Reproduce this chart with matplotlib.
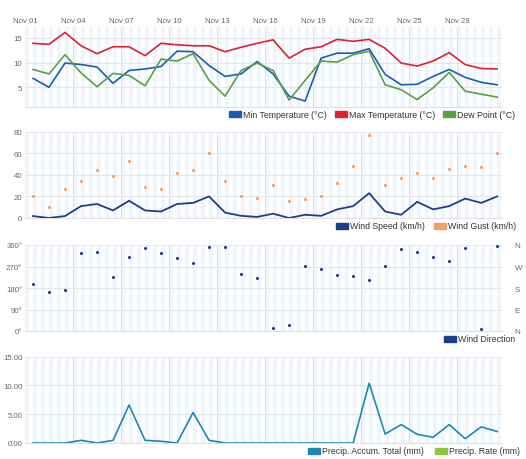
import numpy as np
import matplotlib
matplotlib.use("Agg")
import matplotlib.pyplot as plt
from matplotlib.patches import Rectangle

plt.rcParams['font.family'] = ['Liberation Sans', 'DejaVu Sans']

days = [f"Nov {d:02d}" for d in range(1, 31)]
min_temp = [6.8, 5.0, 9.9, 9.6, 9.1, 5.8, 8.4, 8.7, 9.2, 12.3, 12.2, 9.4, 7.2, 7.7, 10.2,
            7.7, 3.2, 2.2, 10.9, 11.9, 11.9, 12.8, 7.6, 5.5, 5.6, 7.2, 8.6, 7.0, 6.0, 5.5]
max_temp = [13.9, 13.7, 16.1, 13.4, 11.8, 13.2, 13.2, 11.4, 13.9, 13.6, 13.4, 13.4, 12.2, 13.1, 13.9,
            14.6, 10.9, 12.7, 13.2, 14.7, 14.3, 14.7, 12.9, 9.9, 9.3, 10.3, 12.0, 9.6, 8.8, 8.7]
dew_point = [8.6, 7.7, 11.6, 7.9, 5.1, 7.8, 7.4, 5.3, 10.7, 10.3, 11.8, 6.4, 3.2, 8.4, 9.9,
             8.4, 2.4, 6.4, 10.3, 10.1, 11.6, 12.3, 5.5, 4.5, 2.5, 4.9, 8.0, 4.2, 3.6, 3.0]
wind_speed = [1.8, 0, 1.8, 11, 13, 7, 16, 7, 6, 13, 14, 20, 5, 2, 1,
              4, 0, 3, 2, 8, 11, 23, 6, 3, 15, 8, 11, 18, 14, 20]
wind_gust = [20.6, 9.8, 26.8, 34.2, 44.9, 39, 52.9, 28.9, 27, 41.8, 44.9, 60, 34.2, 20.6, 18.8,
             31, 16, 17.8, 20.6, 32, 48, 77.2, 31, 37, 41.8, 37, 45, 48, 47, 60]
wind_dir = [197, 162, 172, 325, 332, 224, 308, 349, 325, 307, 286, 350, 353, 238, 221,
            13, 27, 273, 260, 235, 230, 214, 272, 345, 332, 308, 291, 347, 7, 357]
precip_total = [0, 0, 0, 0.46, 0, 0.46, 6.6, 0.46, 0.3, 0, 5.3, 0.46, 0, 0, 0,
                0, 0, 0, 0, 0, 0, 10.4, 1.56, 3.2, 1.5, 1.0, 3.2, 0.75, 2.8, 2.0]

C_MIN = '#1a5cb8'
C_MAX = '#dd2130'
C_DEW = '#5a9e45'
C_WS = '#1b3f8b'
C_WG = '#f2a060'
C_DIR = '#1b3f8b'
C_PT = '#1f87b5'
C_PR = '#8cc63f'
GRID = '#e6e6e6'
TXT = '#666666'

W, H = 526, 460
fig = plt.figure(figsize=(W / 100, H / 100), dpi=100)

x = np.arange(len(days)) + 0.5
XMAX = 29.8
L, R = 25, 502


def make_ax(top_px, bot_px):
    ax = fig.add_axes([L / W, 1 - bot_px / H, (R - L) / W, (bot_px - top_px) / H])
    ax.set_xlim(0, XMAX)
    for k in range(int(XMAX * 2) + 1):
        ax.axvspan(k * 0.5, k * 0.5 + 0.25, color='#eef5fc', lw=0, zorder=0)
    for d in range(3, 30, 3):
        ax.axvline(d, color='#e2e2e2', lw=0.8, zorder=0.5)
    for s in ax.spines.values():
        s.set_visible(False)
    ax.spines['bottom'].set_visible(True)
    ax.spines['bottom'].set_color('#e0e0e0')
    ax.spines['bottom'].set_linewidth(0.8)
    ax.tick_params(axis='both', length=0, labelsize=5.6, labelcolor=TXT, pad=2)
    ax.set_xticks([])
    ax.grid(axis='y', color=GRID, lw=0.8, zorder=0.5)
    ax.set_axisbelow(True)
    return ax


def legend(items, y_px):
    for xp, col, label in items:
        fig.patches.append(Rectangle((xp / W, 1 - (y_px + 3) / H), 12 / W, 6 / H,
                                     transform=fig.transFigure, color=col, figure=fig))
        fig.text((xp + 14) / W, 1 - y_px / H, label, fontsize=6.3, color='#333333',
                 va='center', ha='left')


# Panel 1: temperatures
ax1 = make_ax(28, 108)
ax1.plot(x, min_temp, color=C_MIN, lw=1.2, zorder=3)
ax1.plot(x, max_temp, color=C_MAX, lw=1.2, zorder=3)
ax1.plot(x, dew_point, color=C_DEW, lw=1.2, zorder=3)
ax1.set_ylim(1.0, 17.2)
ax1.set_yticks([5, 10, 15])
ax1.xaxis.set_ticks_position('top')
ax1.set_xticks(np.arange(0, 30, 3))
ax1.set_xticklabels(days[::3])
ax1.tick_params(axis='x', length=0, labelsize=5.6, labelcolor=TXT, pad=2.5)
legend([(229, C_MIN, 'Min Temperature (°C)'), (335, C_MAX, 'Max Temperature (°C)'),
        (443, C_DEW, 'Dew Point (°C)')], 115)

# Panel 2: wind
ax2 = make_ax(132.7, 219)
ax2.plot(x, wind_speed, color=C_WS, lw=1.3, zorder=3)
ax2.scatter(x, wind_gust, color=C_WG, s=5, zorder=4, linewidths=0)
ax2.set_ylim(0, 80)
ax2.set_yticks([0, 20, 40, 60, 80])
legend([(336, C_WS, 'Wind Speed (km/h)'), (434, C_WG, 'Wind Gust (km/h)')], 227)

# Panel 3: wind direction
ax3 = make_ax(246, 332)
ax3.scatter(x, wind_dir, color=C_DIR, s=5, zorder=4, linewidths=0)
ax3.set_ylim(0, 360)
ax3.set_yticks([0, 90, 180, 270, 360])
ax3.set_yticklabels(['0°', '90°', '180°', '270°', '360°'])
ax3r = ax3.twinx()
ax3r.set_ylim(0, 360)
ax3r.set_yticks([0, 90, 180, 270, 360])
ax3r.set_yticklabels(['N', 'E', 'S', 'W', 'N'])
ax3r.tick_params(axis='y', length=0, labelsize=5.8, labelcolor=TXT, pad=9)
for s in ax3r.spines.values():
    s.set_visible(False)
legend([(444, C_DIR, 'Wind Direction')], 340)

# Panel 4: precipitation
ax4 = make_ax(357.7, 444)
ax4.plot(x, precip_total, color=C_PT, lw=1.2, zorder=3)
ax4.set_ylim(0, 15)
ax4.set_yticks([0, 5, 10, 15])
ax4.set_yticklabels(['0.00', '5.00', '10.00', '15.00'])
legend([(308, C_PT, 'Precip. Accum. Total (mm)'), (435, C_PR, 'Precip. Rate (mm)')], 452)

fig.savefig('out.png', dpi=100, facecolor='white')
